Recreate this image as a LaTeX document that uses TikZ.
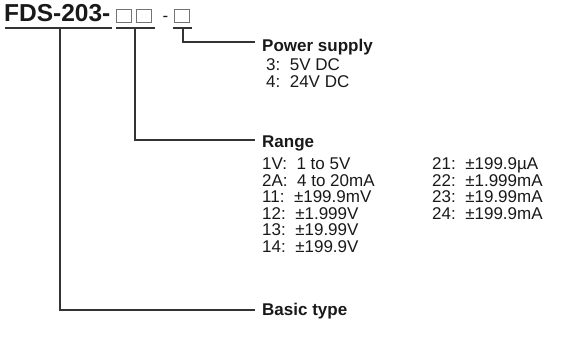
\documentclass[tikz,border=0pt]{standalone}
\usepackage{fontspec}
\setmainfont{Liberation Sans}
\begin{document}
\begin{tikzpicture}[x=1pt,y=-1pt,
  ln/.style={line width=1.1pt, draw=black!80},
  bx/.style={draw=black!55, line width=0.8pt, minimum width=15pt, minimum height=13pt, inner sep=0pt},
  hd/.style={anchor=base west, inner sep=0pt, text=black!90, font=\fontsize{17}{19}\selectfont\bfseries},
  it/.style={anchor=base west, inner sep=0pt, text=black!90, font=\fontsize{17}{19}\selectfont}]
\useasboundingbox (0,0) rectangle (582,344);
% code
\node[anchor=base west, inner sep=0pt, text=black!90, font=\fontsize{24.5}{26}\selectfont\bfseries] (title) at (4,22) {FDS-203-};
\node[bx] (b1) at (123.5,15.5) {};
\node[bx] (b2) at (144,15.5) {};
\node[it] (dash) at (162.5,21.5) {-};
\node[bx] (b3) at (182,15.5) {};
% underlines
\coordinate (u1a) at (5,28);  \coordinate (u1b) at (112,28);
\coordinate (u2a) at (116,28); \coordinate (u2b) at (155,28);
\coordinate (u3a) at (173,28); \coordinate (u3b) at (192,28);
\draw[ln] (u1a) -- (u1b);
\draw[ln] (u2a) -- (u2b);
\draw[ln] (u3a) -- (u3b);
% connectors
\coordinate (v1) at (60,28);  \coordinate (e1) at (255,310);
\coordinate (v2) at (135,28); \coordinate (e2) at (255,140);
\coordinate (v3) at (183,28); \coordinate (e3) at (255,42);
\draw[ln] (v1) |- (e1);
\draw[ln] (v2) |- (e2);
\draw[ln] (v3) |- (e3);
% power supply
\node[hd] (ps) at (262,52) {Power supply};
\node[it] (p3) at (266,71) {3:\ \ 5V DC};
\node[it] (p4) at (266,88) {4:\ \ 24V DC};
% range
\node[hd] (rg) at (262,148) {Range};
\node[it] (r1) at (262,170) {1V:\ \ 1 to 5V};
\node[it] (r2) at (262,186.5) {2A:\ \ 4 to 20mA};
\node[it] (r3) at (262,203) {11:\ \ ±199.9mV};
\node[it] (r4) at (262,219.5) {12:\ \ ±1.999V};
\node[it] (r5) at (262,236) {13:\ \ ±19.99V};
\node[it] (r6) at (262,252.5) {14:\ \ ±199.9V};
\node[it] (r7) at (432,170) {21:\ \ ±199.9µA};
\node[it] (r8) at (432,186.5) {22:\ \ ±1.999mA};
\node[it] (r9) at (432,203) {23:\ \ ±19.99mA};
\node[it] (r10) at (432,219.5) {24:\ \ ±199.9mA};
% basic type
\node[hd] (bt) at (262,316) {Basic type};
\end{tikzpicture}
\end{document}
